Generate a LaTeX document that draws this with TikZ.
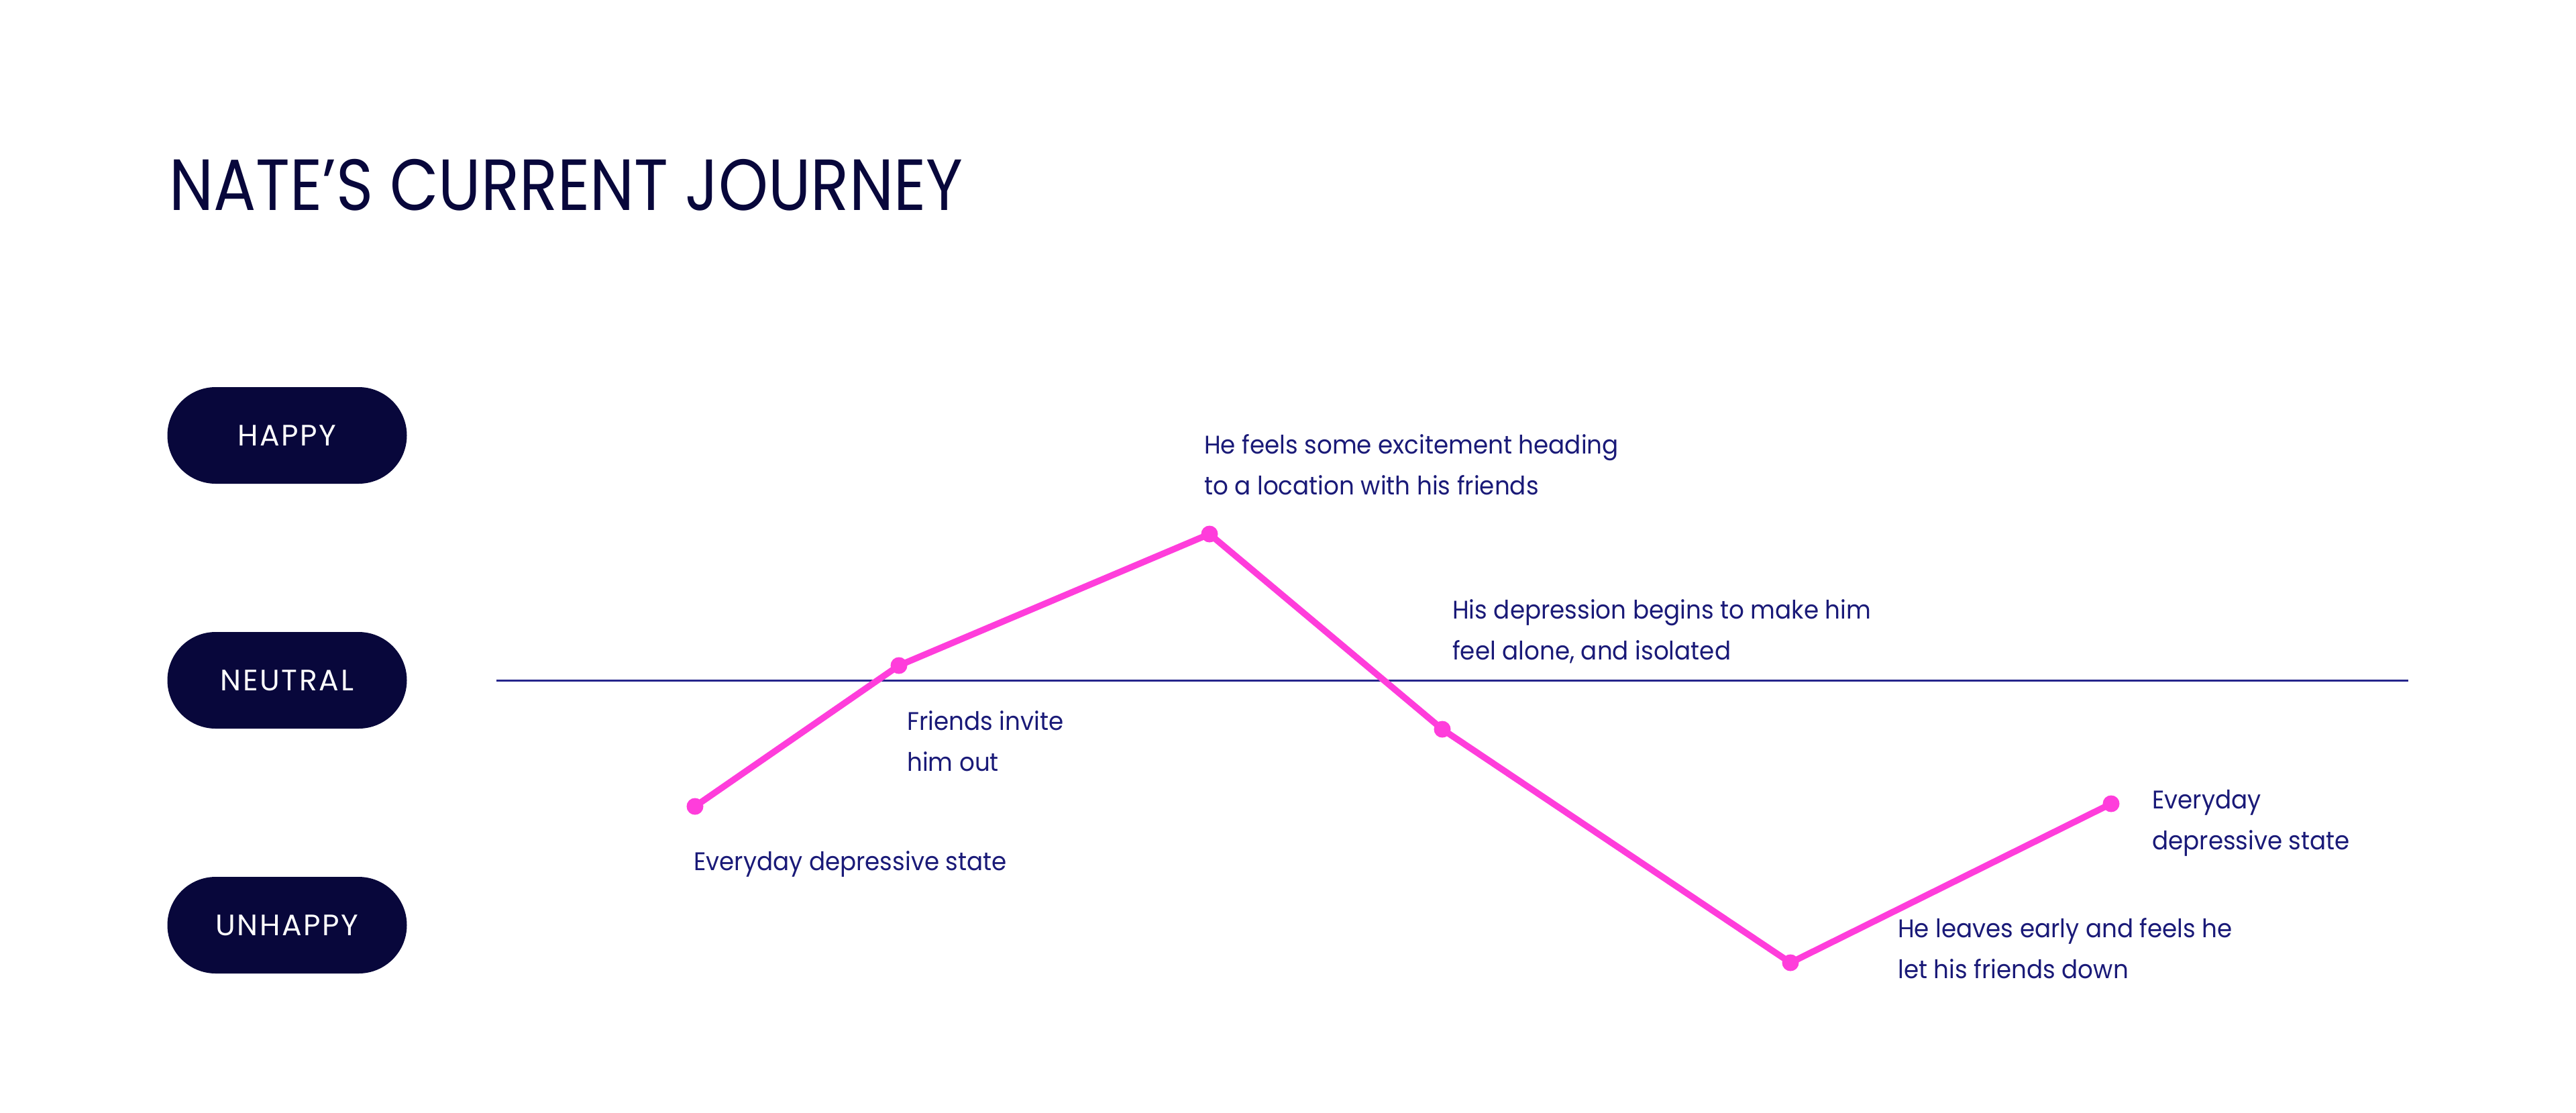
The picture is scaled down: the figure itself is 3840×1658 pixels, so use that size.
\documentclass[tikz,border=0pt]{standalone}
\usepackage{fontspec}
\setmainfont{Poppins}
\newfontfamily\titlefont[FakeStretch=0.87]{Poppins}
\newfontfamily\bodyfont[FakeStretch=0.94]{Poppins}
\newfontfamily\pillfont[LetterSpace=6]{Poppins}
\usetikzlibrary{shapes.misc}
\definecolor{navy}{HTML}{08073B}
\definecolor{txtblue}{HTML}{1A1A78}
\definecolor{axisblue}{HTML}{25258C}
\definecolor{hotpink}{HTML}{FF3DDB}
\tikzset{
  pill/.style={rounded rectangle, fill=navy, text=white, minimum width=357pt, minimum height=144pt, inner sep=0pt, font=\pillfont\fontsize{44}{50}\selectfont},
  lbl/.style={anchor=base west, inner sep=0pt, text=txtblue, align=left, font=\bodyfont\fontsize{38}{61}\selectfont},
  journey/.style={hotpink, line width=9.5pt, line join=round, line cap=round},
  axisline/.style={axisblue, line width=3pt},
  dotmark/.style={fill=hotpink}
}
\begin{document}
\begin{tikzpicture}[x=1pt,y=-1pt]
\useasboundingbox[fill=white] (0,0) rectangle (3840,1658);
\node[anchor=base west, inner sep=0pt, text=navy, font=\titlefont\fontsize{108}{120}\selectfont] (title) at (252,313) {NATE’S CURRENT JOURNEY};
\node[pill] (happy) at (428,649) {HAPPY};
\node[pill] (neutral) at (428,1014) {NEUTRAL};
\node[pill] (unhappy) at (428,1379) {UNHAPPY};
\coordinate (nl) at (740,1014);
\coordinate (nr) at (3590,1014);
\draw[axisline] (nl) -- (nr);
\coordinate (p1) at (1036,1202);
\coordinate (p2) at (1340,992);
\coordinate (p3) at (1803,796);
\coordinate (p4) at (2150,1087);
\coordinate (p5) at (2669,1435);
\coordinate (p6) at (3147,1198);
\draw[journey] (p1) -- (p2) -- (p3) -- (p4) -- (p5) -- (p6);
\foreach \p in {p1,p2,p3,p4,p5,p6} \fill[dotmark] (\p) circle (12.5pt);
\node[lbl] (l3) at (1795,737) {He feels some excitement heading\\to a location with his friends};
\node[lbl] (l4) at (2165,983) {His depression begins to make him\\feel alone, and isolated};
\node[lbl] (l2) at (1352,1149) {Friends invite\\him out};
\node[lbl] (l1) at (1034,1297) {Everyday depressive state};
\node[lbl] (l5) at (2829,1458) {He leaves early and feels he\\let his friends down};
\node[lbl] (l6) at (3208,1266) {Everyday\\depressive state};
\end{tikzpicture}
\end{document}
